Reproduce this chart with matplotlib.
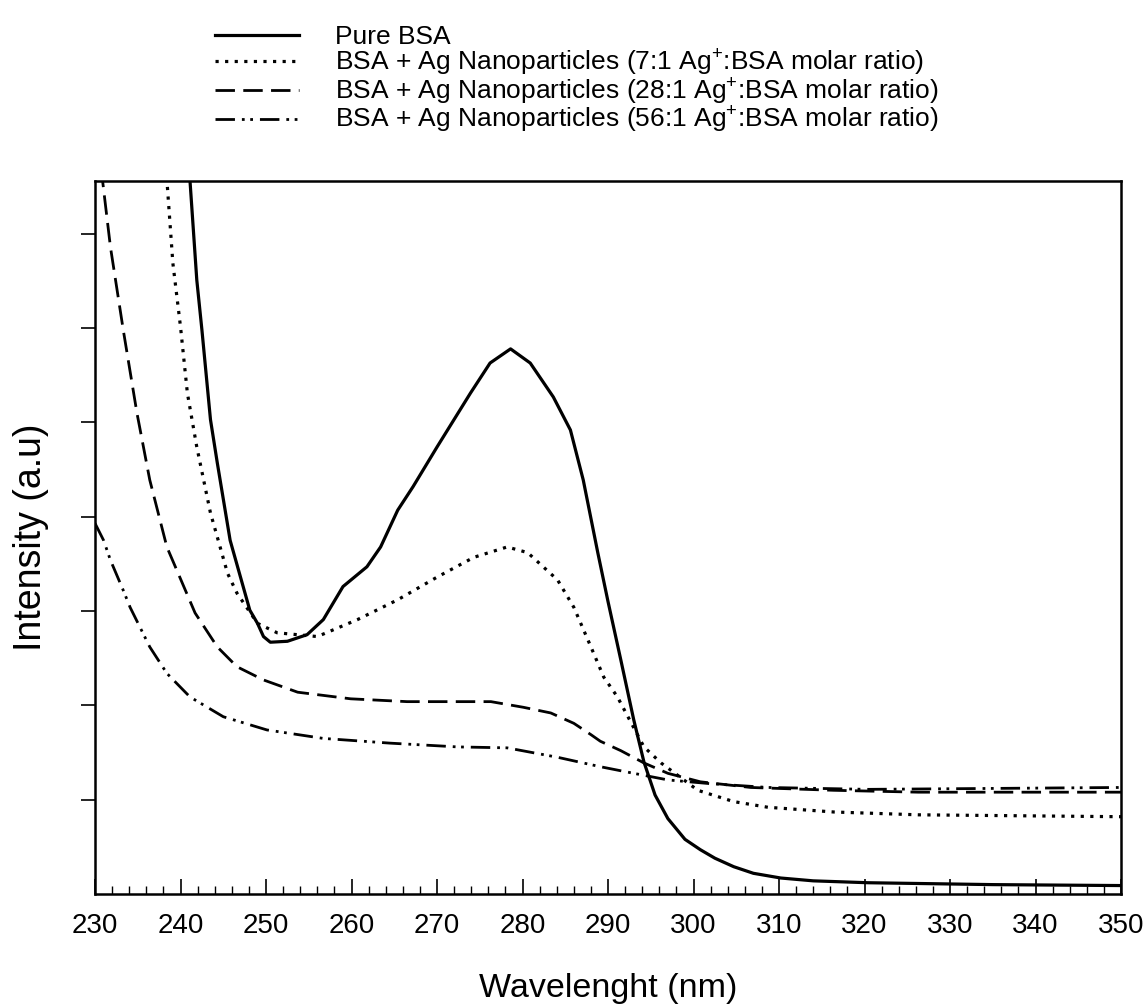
import numpy as np
import matplotlib.pyplot as plt
from matplotlib.ticker import MultipleLocator

plt.rcParams['font.family'] = ['Liberation Sans', 'DejaVu Sans']
plt.rcParams['mathtext.fontset'] = 'custom'
plt.rcParams['mathtext.rm'] = 'Liberation Sans'
plt.rcParams['mathtext.it'] = 'Liberation Sans:italic'

# ── Data (intensity in tick units) ────────────────────────────────────────────
wl_pure = [241.0, 241.9, 242.5, 243.5, 244.3, 245.8, 248.1, 249.0, 249.7, 250.5,
           252.5, 254.8, 256.7, 259.0, 261.8, 263.4, 265.4, 267.2, 270.0, 273.9,
           276.2, 278.6, 280.9, 283.6, 285.6, 287.1, 288.8, 290.0, 291.5, 293.0,
           294.2, 295.5, 297.0, 299.0, 300.8, 302.5, 304.7, 307.0, 310.2, 314.0,
           320.4, 335.0, 350.0]
int_pure = [7.70, 6.51, 5.98, 5.03, 4.57, 3.75, 3.01, 2.87, 2.73, 2.67,
            2.68, 2.75, 2.91, 3.26, 3.47, 3.68, 4.07, 4.32, 4.74, 5.31,
            5.63, 5.78, 5.63, 5.27, 4.92, 4.39, 3.62, 3.10, 2.48, 1.85,
            1.40, 1.05, 0.80, 0.58, 0.47, 0.38, 0.29, 0.22, 0.17, 0.14,
            0.12, 0.10, 0.09]

wl_7 = [238.3, 239.1, 240.0, 240.8, 241.9, 243.5, 245.5, 246.6, 249.0, 251.3,
        256.0, 260.7, 265.4, 270.0, 274.3, 278.2, 280.6, 284.1, 286.0, 288.0,
        289.5, 291.1, 294.2, 296.2, 300.5, 304.7, 308.7, 316.4, 326.3, 350.0]
int_7 = [7.70, 6.69, 6.01, 5.31, 4.74, 4.04, 3.40, 3.19, 2.87, 2.77,
         2.73, 2.91, 3.12, 3.36, 3.57, 3.68, 3.62, 3.33, 3.04, 2.62,
         2.30, 2.09, 1.56, 1.39, 1.10, 0.98, 0.92, 0.87, 0.84, 0.82]

wl_28 = [230.7, 231.8, 233.3, 234.9, 236.4, 238.4, 241.7, 244.3, 246.6, 249.7,
         253.7, 259.9, 266.5, 272.4, 276.3, 280.1, 283.3, 286.0, 288.0, 289.1,
         291.5, 294.2, 297.0, 300.8, 306.7, 316.4, 326.3, 350.0]
int_28 = [7.70, 6.86, 5.98, 5.10, 4.39, 3.68, 2.98, 2.62, 2.41, 2.27,
          2.14, 2.07, 2.04, 2.04, 2.04, 1.98, 1.92, 1.81, 1.69, 1.62,
          1.52, 1.39, 1.28, 1.19, 1.13, 1.10, 1.08, 1.08]

wl_56 = [230.0, 231.0, 231.8, 233.3, 234.1, 236.4, 238.4, 241.1, 245.0, 250.1,
         256.7, 264.5, 272.4, 278.2, 284.1, 289.1, 293.0, 297.0, 302.0, 308.7,
         320.4, 350.0]
int_56 = [3.93, 3.75, 3.54, 3.22, 3.04, 2.62, 2.34, 2.09, 1.88, 1.74,
          1.65, 1.60, 1.56, 1.55, 1.45, 1.35, 1.28, 1.21, 1.17, 1.13,
          1.11, 1.13]

SERIES = [
    (wl_pure, int_pure, "Pure BSA", "-", 2.3),
    (wl_7, int_7, r"BSA + Ag Nanoparticles (7:1 Ag$^{+}$:BSA molar ratio)", (0, (1, 2)), 2.3),
    (wl_28, int_28, r"BSA + Ag Nanoparticles (28:1 Ag$^{+}$:BSA molar ratio)", (0, (7, 3)), 2.0),
    (wl_56, int_56, r"BSA + Ag Nanoparticles (56:1 Ag$^{+}$:BSA molar ratio)", (0, (7, 2.5, 1, 2, 1, 2.5)), 2.0),
]

# ── Plot ──────────────────────────────────────────────────────────────────────
fig = plt.figure(figsize=(11.48, 10.05), dpi=100)
ax = fig.add_axes([0.0828, 0.1104, 0.8937, 0.7095])

for wl, inten, label, ls, lw in SERIES:
    ax.plot(wl, inten, color="black", linestyle=ls, linewidth=lw, label=label)

ax.set_xlim(230, 350)
ax.set_ylim(0, 7.56)

ax.xaxis.set_major_locator(MultipleLocator(10))
ax.xaxis.set_minor_locator(MultipleLocator(2))
ax.tick_params(axis="x", which="major", direction="in", length=11, width=1.2,
               labelsize=20, pad=14, top=False)
ax.tick_params(axis="x", which="minor", direction="in", length=6, width=1.0, top=False)
ax.tick_params(axis="y", which="major", direction="out", length=10, width=1.2,
               labelleft=False, right=False)
ax.set_yticks([1, 2, 3, 4, 5, 6, 7])

for sp in ax.spines.values():
    sp.set_linewidth(1.8)

ax.set_xlabel("Wavelenght (nm)", fontsize=24.5, labelpad=24)
ax.set_ylabel("Intensity (a.u)", fontsize=27)
ax.yaxis.set_label_coords(-0.045, 0.5)

fig.legend(loc="upper left", bbox_to_anchor=(0.187, 0.975), frameon=False,
           fontsize=19, handlelength=3.2, handletextpad=1.35, labelspacing=-0.06,
           borderpad=0, borderaxespad=0)

fig.savefig("out.png", dpi=100)
